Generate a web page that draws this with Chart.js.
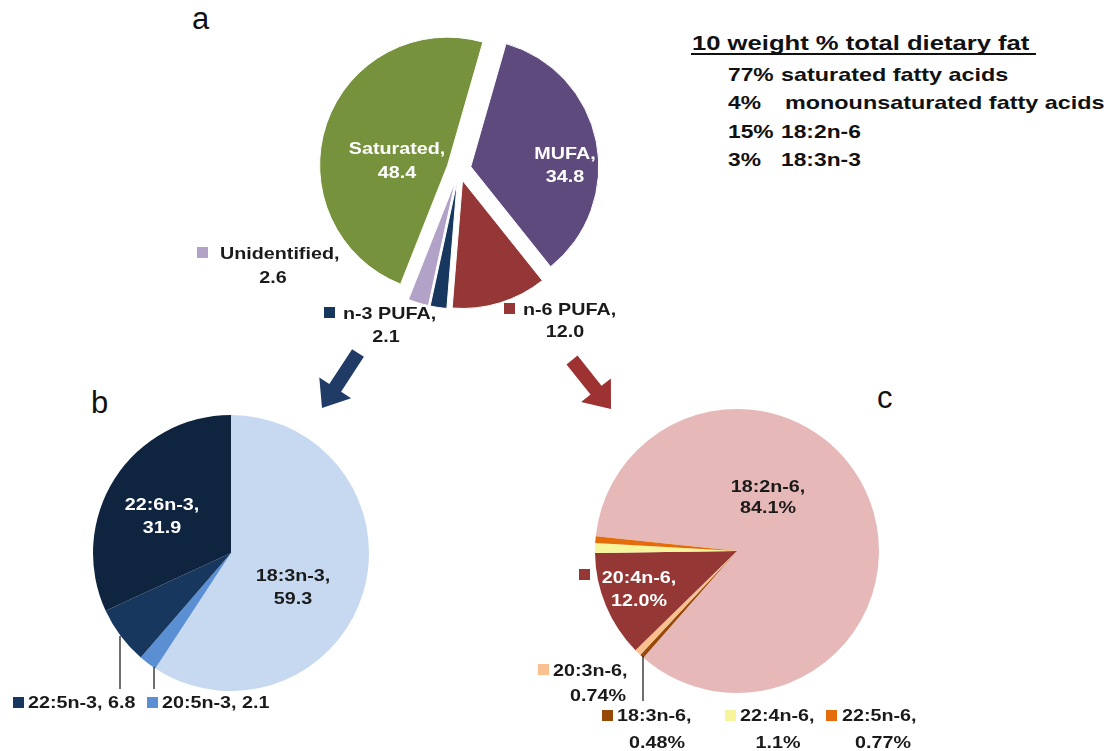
<!DOCTYPE html>
<html>
<head>
<meta charset="utf-8">
<script src="https://cdn.jsdelivr.net/npm/chart.js@4.4.1/dist/chart.umd.min.js"></script>
<style>
    body{ margin:0; background:#fff; width:1115px; height:751px; position:relative; overflow:hidden;
          font-family:"Liberation Sans", Arial, sans-serif; }
    canvas{ position:absolute; }
    .lbl{ position:absolute; white-space:nowrap; line-height:1; font-weight:bold; font-size:17px;
          color:#1a1a1a; z-index:5; }
    .mk{ position:absolute; width:11px; height:11px; z-index:5; }
    .panel{ position:absolute; font-size:31px; line-height:1; color:#111; }
    .head{ position:absolute; font-weight:bold; white-space:nowrap; line-height:1; color:#111;
           transform-origin:0 50%; }
    svg{ position:absolute; left:0; top:0; z-index:4; }
</style>
</head>
<body>

<div class="panel" style="left:192px;top:3px">a</div>
<div class="panel" style="left:91px;top:387px">b</div>
<div class="panel" style="left:877px;top:382px">c</div>

<div class="head" style="left:692px;top:32px;font-size:21px;transform:scaleX(1.22)">10 weight % total dietary fat</div>
<div style="position:absolute;left:691px;top:53px;width:345px;height:2px;background:#111"></div>
<div class="head" style="left:728px;top:65px;font-size:19px;transform:scaleX(1.2)">77%</div>
<div class="head" style="left:781px;top:65px;font-size:19px;transform:scaleX(1.23)">saturated fatty acids</div>
<div class="head" style="left:728px;top:93px;font-size:19px;transform:scaleX(1.2)">4%</div>
<div class="head" style="left:785px;top:93px;font-size:19px;transform:scaleX(1.23)">monounsaturated fatty acids</div>
<div class="head" style="left:728px;top:122px;font-size:19px;transform:scaleX(1.2)">15%</div>
<div class="head" style="left:781px;top:122px;font-size:19px;transform:scaleX(1.2)">18:2n-6</div>
<div class="head" style="left:728px;top:150px;font-size:19px;transform:scaleX(1.2)">3%</div>
<div class="head" style="left:781px;top:150px;font-size:19px;transform:scaleX(1.2)">18:3n-3</div>

<canvas id="pieA" width="300" height="300" style="left:309px;top:19px"></canvas>
<canvas id="pieB" width="290" height="290" style="left:86px;top:408px"></canvas>
<canvas id="pieC" width="300" height="300" style="left:587px;top:401px"></canvas>

<svg width="1115" height="751">
    <!-- arrows -->
    <polygon points="363.9,356.8 341.1,391.7 351.1,398.3 322,408 319.3,377.5 329.3,384.1 352.1,349.2" fill="#1f3b66"/>
    <polygon points="566.5,364.4 590.5,394.6 581.1,402 611,409 610.9,378.4 601.5,385.8 577.5,355.6" fill="#9e3233"/>
    <!-- leader lines -->
    <line x1="120" y1="636" x2="120" y2="689" stroke="#222" stroke-width="1.3"/>
    <line x1="154" y1="667" x2="154" y2="689" stroke="#222" stroke-width="1.3"/>
    <line x1="643" y1="656" x2="643" y2="701" stroke="#222" stroke-width="1.3"/>
</svg>

<script>
// panel a: total fat composition (weight %)
var namesA  = ["MUFA", "n-6 PUFA", "n-3 PUFA", "Unidentified", "Saturated"];
var valuesA = [34.8, 12.0, 2.1, 2.6, 48.4];
var colorsA = ["#5f4a7d", "#953736", "#17375e", "#b3a2c7", "#76923c"];

// panel b: n-3 PUFA
var namesB  = ["18:3n-3", "20:5n-3", "22:5n-3", "22:6n-3"];
var valuesB = [59.3, 2.1, 6.8, 31.9];
var colorsB = ["#c6d9f0", "#5a8fd3", "#17375e", "#0f243e"];

// panel c: n-6 PUFA
var namesC  = ["18:2n-6", "18:3n-6", "20:3n-6", "20:4n-6", "22:4n-6", "22:5n-6"];
var valuesC = [84.1, 0.48, 0.74, 12.0, 1.1, 0.77];
var colorsC = ["#e6b9b8", "#984807", "#fac090", "#953735", "#f7f59c", "#e46c0a"];

// pulls every slice out from the centre along its mid angle
var explodePlugin = {
    id: "explode",
    beforeDatasetsDraw: function(chart, args, opts){
        var d = opts.distance || 0;
        if(!d) return;
        var ca = chart.chartArea;
        var cx = (ca.left + ca.right) / 2, cy = (ca.top + ca.bottom) / 2;
        chart.getDatasetMeta(0).data.forEach(function(arc){
            var mid = (arc.startAngle + arc.endAngle) / 2;
            arc.x = cx + Math.cos(mid) * d;
            arc.y = cy + Math.sin(mid) * d;
        });
    }
};

function makePie(id, values, colors, radius, rotation, explode, border){
    return new Chart(document.getElementById(id), {
        type: "pie",
        data: { datasets: [{ data: values, backgroundColor: colors, borderColor: "#ffffff",
                             borderWidth: border }] },
        options: {
            responsive: false, animation: false, events: [], radius: radius, rotation: rotation,
            layout: { padding: 0 },
            plugins: { legend: { display: false }, tooltip: { enabled: false },
                       explode: { distance: explode } }
        },
        plugins: [explodePlugin]
    });
}
makePie("pieA", valuesA, colorsA, 128, 16, 12, 1);
makePie("pieB", valuesB, colorsB, 138, 0, 0, 0);
makePie("pieC", valuesC, colorsC, 142, 276, 0, 0);

function fmt(v){ return v >= 1 ? v.toFixed(1) : v.toFixed(2); }

function addText(txt, x, y, align, color){
    var d = document.createElement("div");
    d.className = "lbl";
    d.textContent = txt;
    d.style.left = x + "px";
    d.style.top = y + "px";
    if(align == "center"){
        d.style.transform = "translate(-50%,-50%) scaleX(1.16)";
    }else{
        d.style.transformOrigin = "0 50%";
        d.style.transform = "translate(0,-50%) scaleX(1.16)";
    }
    if(color) d.style.color = color;
    document.body.appendChild(d);
}
function addMark(color, x, y){
    var m = document.createElement("div");
    m.className = "mk";
    m.style.left = x + "px";
    m.style.top = y + "px";
    m.style.background = color;
    document.body.appendChild(m);
}

// label layout: [index, x1, y1, align1, x2, y2, textColor, markerX, markerY]
function twoLine(names, values, colors, pos, suffix){
    pos.forEach(function(p){
        var i = p[0];
        addText(names[i] + ",", p[1], p[2], p[3], p[6]);
        addText(fmt(values[i]) + suffix, p[4], p[5], "center", p[6]);
        if(p[7] != null) addMark(colors[i], p[7], p[8]);
    });
}

twoLine(namesA, valuesA, colorsA, [
    [4, 397, 148, "center", 397, 172, "#ffffff"],
    [0, 565, 153, "center", 565, 176, "#ffffff"],
    [3, 220, 253, "left",   273, 277, null, 197, 247],
    [2, 343, 313, "left",   386, 336, null, 324, 307],
    [1, 523, 309, "left",   565, 331, null, 504, 303]
], "");

twoLine(namesB, valuesB, colorsB, [
    [3, 162, 504, "center", 162, 527, "#ffffff"],
    [0, 293, 575, "center", 293, 598, null]
], "");
// single line legend entries for the thin slices of b
addMark(colorsB[2], 13, 697);
addText(namesB[2] + ", " + fmt(valuesB[2]), 28, 702, "left");
addMark(colorsB[1], 147, 697);
addText(namesB[1] + ", " + fmt(valuesB[1]), 162, 702, "left");

twoLine(namesC, valuesC, colorsC, [
    [0, 768, 486, "center", 768, 507, null],
    [3, 639, 577, "center", 639, 600, "#ffffff", 579, 569],
    [2, 553, 670, "left",   598, 695, null, 538, 664],
    [1, 617, 715, "left",   657, 742, null, 602, 710],
    [4, 740, 715, "left",   778, 742, null, 725, 710],
    [5, 842, 715, "left",   883, 742, null, 826, 710]
], "%");
</script>
</body>
</html>
